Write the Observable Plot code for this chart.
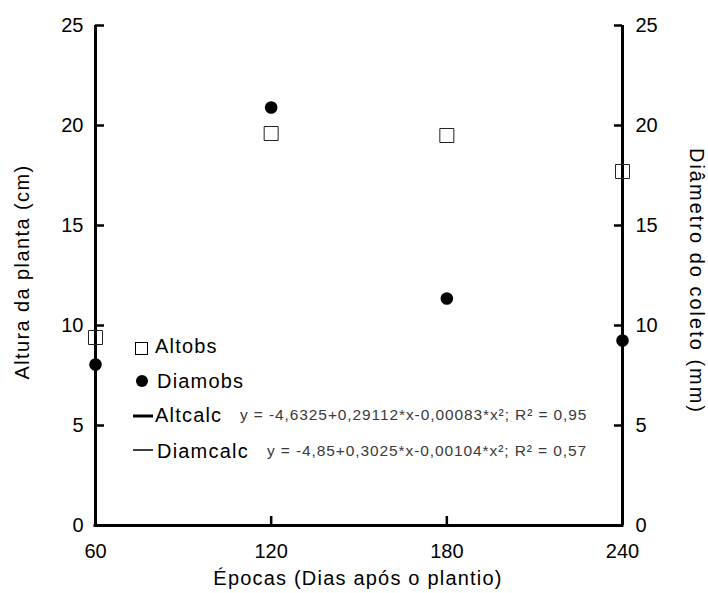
<!DOCTYPE html>
<html>
<head>
<meta charset="utf-8">
<script src="https://cdn.jsdelivr.net/npm/d3@7"></script>
<script src="https://cdn.jsdelivr.net/npm/@observablehq/plot@0.6"></script>
<style>
  html, body { margin: 0; padding: 0; background: #fff; }
  #chart { width: 708px; height: 593px; position: relative; }
</style>
</head>
<body>
<div id="chart"></div>
<script>
// ---- data ----
const epocas = [60, 120, 180, 240];
const altobs = [9.4, 19.6, 19.5, 17.7];
const diamobs = [8.05, 20.9, 11.35, 9.25];
const xTicks = [60, 120, 180, 240];
const yTicks = [0, 5, 10, 15, 20, 25];
const legendLabels = ["Altobs", "Diamobs", "Altcalc", "Diamcalc"];
const equations = [
  "y = -4,6325+0,29112*x-0,00083*x²; R² = 0,95",
  "y = -4,85+0,3025*x-0,00104*x²; R² = 0,57"
];
const xTitle = "Épocas (Dias após o plantio)";
const yLeftTitle = "Altura da planta (cm)";
const yRightTitle = "Diâmetro do coleto (mm)";

const altData = epocas.map((x, i) => ({x, y: altobs[i]}));
const diamData = epocas.map((x, i) => ({x, y: diamobs[i]}));

const font = "'Liberation Sans', Arial, sans-serif";

const W = 708, H = 593, mT = 25, mB = 68, mL = 95, mR = 86;
const frameW = W - mL - mR, frameH = H - mT - mB;

const plot = Plot.plot({
  width: W,
  height: H,
  marginTop: mT,
  marginBottom: mB,
  marginLeft: mL,
  marginRight: mR,
  style: {fontFamily: font, fontSize: "20px", color: "#000", background: "#fff"},
  x: {domain: [60, 240]},
  y: {domain: [0, 25]},
  marks: [
    Plot.axisY({anchor: "left", ticks: yTicks, tickSize: 0, tickPadding: 12, label: null, fontSize: 20}),
    Plot.axisY({anchor: "right", ticks: yTicks, tickSize: 0, tickPadding: 13, label: null, fontSize: 20}),
    Plot.axisX({anchor: "bottom", ticks: xTicks, tickSize: 0, tickPadding: 18, label: null, fontSize: 20}),
    // inward tick marks (pixel insets from the frame edges)
    Plot.tickY(yTicks, {y: d => d, insetRight: frameW - 9, stroke: "#000", strokeWidth: 2.5}),
    Plot.tickY(yTicks, {y: d => d, insetLeft: frameW - 8, stroke: "#000", strokeWidth: 2.5}),
    Plot.tickX(xTicks, {x: d => d, insetTop: frameH - 9, stroke: "#000", strokeWidth: 2.5}),
    Plot.ruleX([60, 240], {stroke: "#000", strokeWidth: 3}),
    Plot.ruleY([0], {stroke: "#000", strokeWidth: 3, strokeLinecap: "square"}),
    Plot.dot(altData, {x: "x", y: "y", symbol: "square", r: 7.9, fill: "none", stroke: "#222", strokeWidth: 1}),
    Plot.dot(diamData, {x: "x", y: "y", symbol: "circle", r: 6.3, fill: "#000", stroke: "none"})
  ]
});

document.getElementById("chart").appendChild(plot);
const svg = d3.select(plot);

// ---- titles and legend as real SVG text ----
svg.append("text")
  .attr("x", 358).attr("y", 585)
  .attr("text-anchor", "middle")
  .style("font-family", font).style("font-size", "20px").style("letter-spacing", "1.2px")
  .attr("fill", "#000")
  .text(xTitle);
svg.append("text")
  .attr("transform", "translate(29,272) rotate(-90)")
  .attr("text-anchor", "middle")
  .style("font-family", font).style("font-size", "20px").style("letter-spacing", "1.4px")
  .attr("fill", "#000")
  .text(yLeftTitle);
svg.append("text")
  .attr("transform", "translate(690,281) rotate(90)")
  .attr("text-anchor", "middle")
  .style("font-family", font).style("font-size", "20px").style("letter-spacing", "2px")
  .attr("fill", "#000")
  .text(yRightTitle);

const lg = svg.append("g").attr("text-anchor", "start");
lg.append("rect").attr("x", 135.5).attr("y", 342.5).attr("width", 12).attr("height", 12)
  .attr("fill", "none").attr("stroke", "#000").attr("stroke-width", 1);
lg.append("circle").attr("cx", 142).attr("cy", 381).attr("r", 6).attr("fill", "#000");
lg.append("line").attr("x1", 133).attr("x2", 153).attr("y1", 416).attr("y2", 416)
  .attr("stroke", "#000").attr("stroke-width", 3);
lg.append("line").attr("x1", 133).attr("x2", 153).attr("y1", 450).attr("y2", 450)
  .attr("stroke", "#000").attr("stroke-width", 1.5);
const baselines = [353, 388, 422, 458];
const lx = [155, 157, 155, 157];
legendLabels.forEach((t, i) => {
  lg.append("text").attr("x", lx[i]).attr("y", baselines[i])
    .attr("text-anchor", "start")
    .style("font-family", font).style("font-size", "20px").style("letter-spacing", "1.2px")
    .attr("fill", "#000").text(t);
});
const eqX = [240, 267];
const eqY = [420, 456];
equations.forEach((t, i) => {
  lg.append("text").attr("x", eqX[i]).attr("y", eqY[i])
    .attr("text-anchor", "start")
    .style("font-family", font).style("font-size", "15.5px").style("letter-spacing", "0.9px")
    .attr("fill", "#3a3a3a").text(t);
});
</script>
</body>
</html>
